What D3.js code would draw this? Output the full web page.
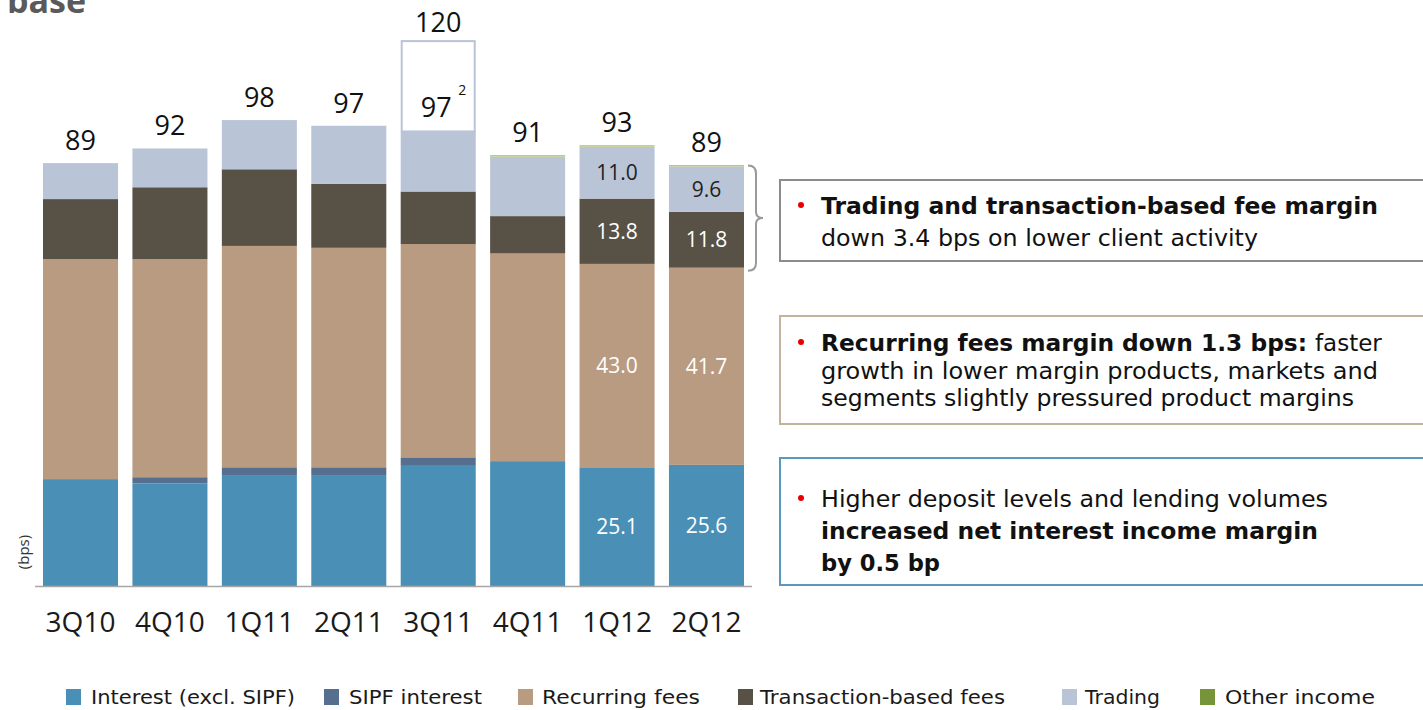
<!DOCTYPE html>
<html><head><meta charset="utf-8">
<script src="https://cdn.jsdelivr.net/npm/d3@7"></script>
<style>
html,body{margin:0;padding:0;background:#fff;}
svg{display:block;font-family:"Open Sans","Noto Sans",sans-serif;}
</style></head>
<body>
<svg id="chart" width="1423" height="710"></svg>
<script>
// ---------- data ----------
const quarters    = ['3Q10','4Q10','1Q11','2Q11','3Q11','4Q11','1Q12','2Q12'];
const interest    = [22.6, 21.7, 23.3, 23.3, 25.4, 26.4, 25.1, 25.6];
const sipf        = [0,    1.3,  1.8,  1.8,  1.8,  0,    0,    0];
const recurring   = [46.5, 46.1, 46.8, 46.4, 45.1, 43.9, 43.0, 41.7];
const transaction = [12.7, 15.2, 16.2, 13.5, 11.1, 7.9,  13.8, 11.8];
const trading     = [7.6,  8.2,  10.4, 12.3, 12.7, 12.6, 11.0, 9.6];
const other       = [0,    0,    0,    0,    0,    0.3,  0.3,  0.3];
const totalLabels = ['89','92','98','97','','91','93','89'];
// 3Q11 reported total (box) and adjusted total shown inside
const boxQuarter = '3Q11';
const boxTop = 115.2;
const boxLabel = '120';
const boxInnerLabel = '97';
const boxFootnote = '2';
const labeledQuarters = ['1Q12','2Q12'];
const labeledSeries = ['interest','recurring','transaction','trading'];

const seriesKeys  = ['interest','sipf','recurring','transaction','trading','other'];
const seriesNames = ['Interest (excl. SIPF)','SIPF interest','Recurring fees','Transaction-based fees','Trading','Other income'];
const seriesData  = {interest, sipf, recurring, transaction, trading, other};
const colors = {interest:'#4a90b6', sipf:'#566f8f', recurring:'#b89b81', transaction:'#575146', trading:'#b9c4d7', other:'#b8c96a'};
const legendColors = {interest:'#4a90b6', sipf:'#566f8f', recurring:'#b89b81', transaction:'#575146', trading:'#b9c4d7', other:'#76953a'};
const labelColors = {interest:'#fff', recurring:'#fff', transaction:'#fff', trading:'#222'};

// annotation text runs: [text, bold]
const annotations = [
  {border:'#8c8c8c', lines:[
    [['Trading and transaction-based fee margin', true]],
    [['down 3.4 bps on lower client activity', false]]]},
  {border:'#c2b39c', lines:[
    [['Recurring fees margin down 1.3 bps:', true],['faster', false]],
    [['growth in lower margin products, markets and', false]],
    [['segments slightly pressured product margins', false]]]},
  {border:'#5a98bf', lines:[
    [['Higher deposit levels and lending volumes', false]],
    [['increased net interest income margin', true]],
    [['by 0.5 bp', true]]]}
];

// ---------- layout ----------
const svg = d3.select('#chart');
const x = d3.scaleBand().domain(quarters).range([35, 752]).paddingInner(0.161).paddingOuter(0.0895);
const y = d3.scaleLinear().domain([0, 100]).range([586, 113]);

function fit(t, w){
  const n = t.node().getComputedTextLength();
  if (w && Math.abs(n - w) / w > 0.01) t.attr('textLength', w).attr('lengthAdjust', 'spacingAndGlyphs');
}

const rows = quarters.map((q,i)=>{ const r={q}; seriesKeys.forEach(k=>r[k]=seriesData[k][i]); return r; });
const stack = d3.stack().keys(seriesKeys)(rows);

// title fragment
svg.append('text').attr('x',7).attr('y',13).attr('font-size',34).attr('font-weight',700)
  .attr('fill','#5a5a5a').text('base');

// box for 3Q11
const bi = quarters.indexOf(boxQuarter);
const topStack = stack[stack.length-1][bi][1];
svg.append('rect').attr('x',x(boxQuarter)+1).attr('width',x.bandwidth()-2)
  .attr('y',y(boxTop)).attr('height',y(topStack)-y(boxTop))
  .attr('fill','#fff').attr('stroke','#b9c4d7').attr('stroke-width',2);

// bars
svg.append('g').selectAll('g').data(stack).join('g')
  .attr('fill',d=>colors[d.key])
  .selectAll('rect').data(d=>d).join('rect')
  .attr('x',d=>x(d.data.q)).attr('width',x.bandwidth())
  .attr('y',d=>y(d[1])).attr('height',d=>Math.max(0,y(d[0])-y(d[1])));

// baseline
svg.append('line').attr('x1',35).attr('x2',752).attr('y1',y(0)+0.5).attr('y2',y(0)+0.5)
  .attr('stroke','#a6a6a6').attr('stroke-width',1.5);

// x axis
const xAxis = svg.append('g').attr('transform',`translate(0,${y(0)})`).call(d3.axisBottom(x).tickSize(0).tickPadding(0));
xAxis.select('.domain').remove();
xAxis.selectAll('text').attr('font-size',28).attr('fill','#1a1a1a').attr('dy',null).attr('y',46)
  .attr('font-family','"Open Sans",sans-serif');

// (bps)
svg.append('text').attr('transform',`translate(29,552) rotate(-90)`).attr('text-anchor','middle')
  .attr('font-size',15).attr('fill','#333').text('(bps)');

// total labels
quarters.forEach((q,i)=>{
  if(!totalLabels[i]) return;
  const top = stack[stack.length-1][i][1];
  svg.append('text').attr('x',x(q)+x.bandwidth()/2).attr('y',y(top)-13)
    .attr('text-anchor','middle').attr('font-size',27).attr('fill','#111').text(totalLabels[i]);
});
svg.append('text').attr('x',x(boxQuarter)+x.bandwidth()/2).attr('y',y(boxTop)-9)
  .attr('text-anchor','middle').attr('font-size',27).attr('fill','#111').text(boxLabel);
svg.append('text').attr('x',x(boxQuarter)+x.bandwidth()/2-2).attr('y',y(topStack)-14)
  .attr('text-anchor','middle').attr('font-size',27).attr('fill','#111').text(boxInnerLabel);
svg.append('text').attr('x',x(boxQuarter)+x.bandwidth()/2+24).attr('y',y(topStack)-36)
  .attr('text-anchor','middle').attr('font-size',14).attr('fill','#111').text(boxFootnote);

// segment value labels
stack.forEach(layer=>{
  if(!labeledSeries.includes(layer.key)) return;
  layer.forEach(d=>{
    if(!labeledQuarters.includes(d.data.q)) return;
    svg.append('text').attr('x',x(d.data.q)+x.bandwidth()/2).attr('y',(y(d[0])+y(d[1]))/2)
      .attr('dy','0.36em').attr('text-anchor','middle').attr('font-size',21)
      .attr('fill',labelColors[layer.key]).text(d.data[layer.key].toFixed(1));
  });
});

// bracket
const bq = quarters[quarters.length-1];
const bTop = y(stack[4][7][1]) - 1, bBot = y(stack[3][7][0]) + 3;
const bx = x(bq)+x.bandwidth()+4, bm=(bTop+bBot)/2;
svg.append('path').attr('fill','none').attr('stroke','#9a9a9a').attr('stroke-width',2)
  .attr('d',`M${bx},${bTop} Q${bx+8},${bTop} ${bx+8},${bTop+8} L${bx+8},${bm-6} Q${bx+8},${bm} ${bx+15},${bm} Q${bx+8},${bm} ${bx+8},${bm+6} L${bx+8},${bBot-8} Q${bx+8},${bBot} ${bx},${bBot}`);

// annotation boxes (geometry + per-run start x and width)
const boxGeo = [
  {y0:180,y1:261,base:214,lh:32, runs:[[[821,557]],[[821,437]]]},
  {y0:316,y1:424,base:351,lh:27.5, runs:[[[821,486],[1315,67]],[[821,557]],[[821,533]]]},
  {y0:458,y1:585,base:507,lh:32, runs:[[[821,507]],[[821,497]],[[821,119]]]}
];
const annFont = '"DejaVu Sans","Liberation Sans",sans-serif';
annotations.forEach((a,i)=>{
  const g = boxGeo[i];
  svg.append('rect').attr('x',780).attr('y',g.y0).attr('width',700).attr('height',g.y1-g.y0)
    .attr('fill','#fff').attr('stroke',a.border).attr('stroke-width',2);
  svg.append('circle').attr('cx',801).attr('cy',g.base-9).attr('r',3).attr('fill','#e60000');
  a.lines.forEach((ln,j)=>{
    ln.forEach((run,k)=>{
      const [tx, tw] = g.runs[j][k];
      const t = svg.append('text').attr('x',tx).attr('y',g.base+j*g.lh)
        .attr('font-family',annFont).attr('font-size',23).attr('font-weight',run[1]?700:400)
        .attr('fill','#111').text(run[0]);
      fit(t, tw);
    });
  });
});

// legend
const legendSwX = [66, 324, 518, 738, 1062, 1200];
const legendTxX = [91, 349, 542, 760, 1085, 1225];
const legendTxW = [204, 133, 158, 245, 75, 150];
seriesKeys.forEach((k,i)=>{
  svg.append('rect').attr('x',legendSwX[i]).attr('y',689).attr('width',15).attr('height',16).attr('fill',legendColors[k]);
  const t = svg.append('text').attr('x',legendTxX[i]).attr('y',704).attr('font-family',annFont)
    .attr('font-size',20).attr('fill','#1a1a1a').text(seriesNames[i]);
  fit(t, legendTxW[i]);
});
</script>
</body></html>
